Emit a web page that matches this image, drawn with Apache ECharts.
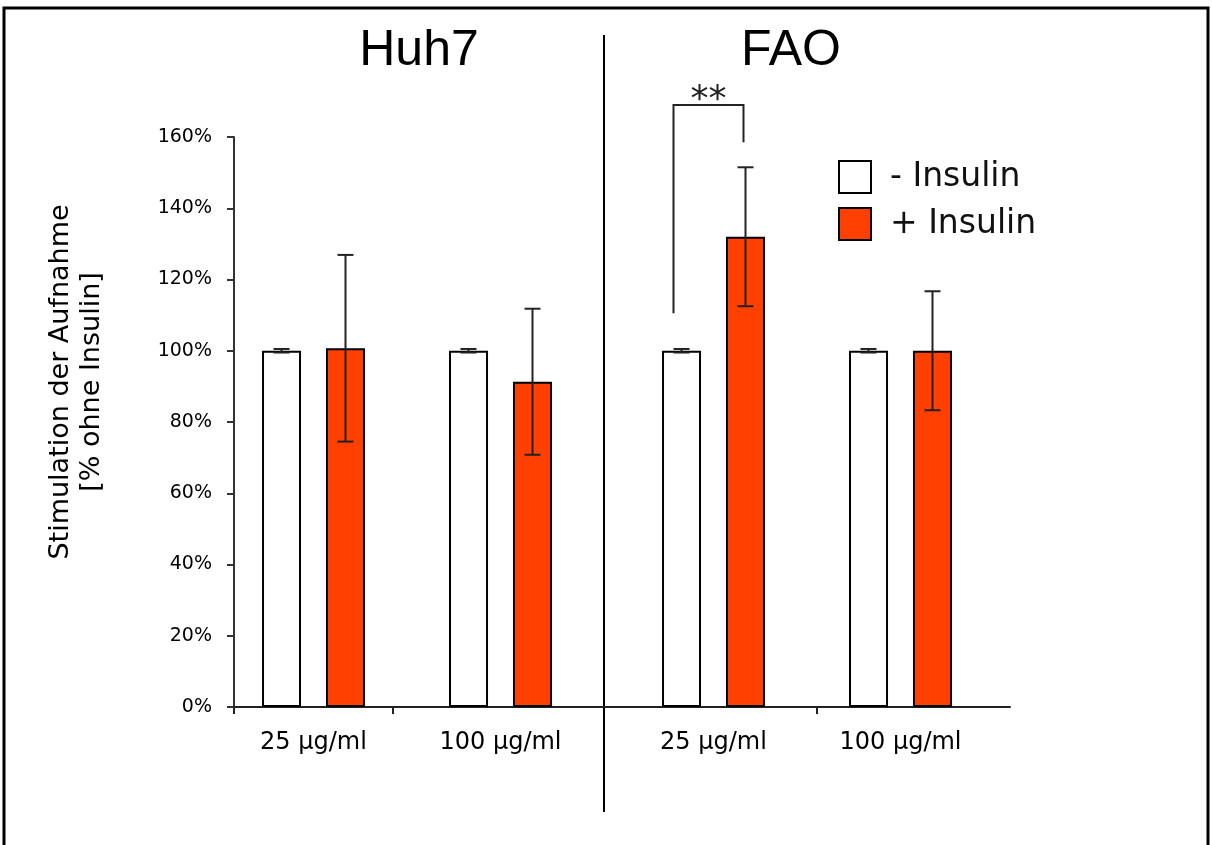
<!DOCTYPE html>
<html>
<head>
<meta charset="utf-8">
<script src="https://cdn.jsdelivr.net/npm/echarts@6/dist/echarts.min.js"></script>
<style>
  html, body { margin: 0; padding: 0; background: #fff; }
  #chart { width: 1212px; height: 845px; }
</style>
</head>
<body>
<div id="chart"></div>
<script>
// ---- data ----
const categories = ['25 µg/ml', '100 µg/ml'];
const panelTitles = ['Huh7', 'FAO'];
const seriesNames = ['- Insulin', '+ Insulin'];
const huh7Minus = [100, 100];
const huh7MinusErr = [0.5, 0.5];
const huh7Plus = [100.7, 91.3];
const huh7PlusErr = [26.2, 20.5];
const faoMinus = [100, 100];
const faoMinusErr = [0.5, 0.5];
const faoPlus = [132.0, 100.0];
const faoPlusErr = [19.5, 16.7];
const yTicks = [0, 20, 40, 60, 80, 100, 120, 140, 160];
const yAxisTitle = ['Stimulation der Aufnahme', '[% ohne Insulin]'];
const sigLabel = '**';
const sigBracket = [110.5, 169, 158.5]; // left-leg bottom, top, right-leg bottom (%)

// ---- style ----
const ORANGE = '#FF4000';
const TOP = 137, H = 570;
const BAR_W = 39, HALF_OFF = 32;

const chart = echarts.init(document.getElementById('chart'));

function errSeries(name, vals, errs, sign, axisIdx) {
  return {
    type: 'custom',
    name: name + ' err',
    xAxisIndex: axisIdx, yAxisIndex: axisIdx,
    z: 5,
    silent: true,
    data: vals.map((v, i) => [i, v, errs[i]]),
    renderItem: function (params, api) {
      const i = api.value(0), v = api.value(1), e = api.value(2);
      const c = api.coord([i, v]);
      const x = c[0] + sign * HALF_OFF;
      const yt = api.coord([i, v + e])[1];
      const yb = api.coord([i, v - e])[1];
      const st = { stroke: '#222', lineWidth: 2 };
      return {
        type: 'group',
        children: [
          { type: 'line', shape: { x1: x, y1: yt, x2: x, y2: yb }, style: st },
          { type: 'line', shape: { x1: x - 8, y1: yt, x2: x + 8, y2: yt }, style: st },
          { type: 'line', shape: { x1: x - 8, y1: yb, x2: x + 8, y2: yb }, style: st }
        ]
      };
    }
  };
}

function barSeries(name, vals, color, axisIdx) {
  return {
    type: 'bar', name: name,
    xAxisIndex: axisIdx, yAxisIndex: axisIdx,
    barWidth: BAR_W, barGap: '64%',
    itemStyle: { color: color, borderColor: '#000', borderWidth: 2 },
    emphasis: { disabled: true },
    data: vals
  };
}

const yBase = { type: 'value', min: 0, max: 160, interval: 20, splitLine: { show: false } };

const option = {
  animation: false,
  backgroundColor: '#fff',
  textStyle: { fontFamily: 'DejaVu Sans' },
  grid: [
    { left: 234, top: TOP, width: 370, height: H },
    { left: 604, top: TOP, width: 406, height: H },
    { left: 220, top: TOP, width: 374, height: H },
    { left: 620, top: TOP, width: 374, height: H }
  ],
  xAxis: [
    { gridIndex: 0, type: 'value', min: 0, max: 1,
      axisLine: { show: true, lineStyle: { color: '#222', width: 2 } },
      axisTick: { show: true, length: 7, customValues: [0, 0.43], lineStyle: { color: '#222', width: 2 } },
      axisLabel: { show: false }, splitLine: { show: false } },
    { gridIndex: 1, type: 'value', min: 0, max: 1,
      axisLine: { show: true, lineStyle: { color: '#222', width: 2 } },
      axisTick: { show: true, length: 7, customValues: [0.525], lineStyle: { color: '#222', width: 2 } },
      axisLabel: { show: false }, splitLine: { show: false } },
    { gridIndex: 2, type: 'category', data: categories,
      axisLine: { show: false }, axisTick: { show: false },
      axisLabel: { margin: 24, fontSize: 24, color: '#000', fontFamily: 'DejaVu Sans' } },
    { gridIndex: 3, type: 'category', data: categories,
      axisLine: { show: false }, axisTick: { show: false },
      axisLabel: { margin: 24, fontSize: 24, color: '#000', fontFamily: 'DejaVu Sans' } }
  ],
  yAxis: [
    Object.assign({}, yBase, { gridIndex: 0,
      axisLine: { show: true, lineStyle: { color: '#333', width: 2 } },
      axisTick: { show: true, length: 7, lineStyle: { color: '#333', width: 2 } },
      axisLabel: { margin: 22, fontSize: 19, color: '#000', fontFamily: 'DejaVu Sans',
        customValues: yTicks, formatter: '{value}%' } }),
    Object.assign({}, yBase, { gridIndex: 1, show: false }),
    Object.assign({}, yBase, { gridIndex: 2, show: false }),
    Object.assign({}, yBase, { gridIndex: 3, show: false })
  ],
  legend: {
    data: seriesNames,
    orient: 'vertical',
    left: 838, top: 160, padding: 0,
    itemWidth: 32, itemHeight: 32, itemGap: 13,
    icon: 'rect',
    selectedMode: false,
    textStyle: { fontSize: 33, color: '#111', fontFamily: 'DejaVu Sans', padding: [0, 0, 0, 14] }
  },
  series: [
    barSeries(seriesNames[0], huh7Minus, '#fff', 2),
    barSeries(seriesNames[1], huh7Plus, ORANGE, 2),
    barSeries(seriesNames[0], faoMinus, '#fff', 3),
    barSeries(seriesNames[1], faoPlus, ORANGE, 3),
    errSeries('huh7m', huh7Minus, huh7MinusErr, -1, 2),
    errSeries('huh7p', huh7Plus, huh7PlusErr, 1, 2),
    errSeries('faom', faoMinus, faoMinusErr, -1, 3),
    errSeries('faop', faoPlus, faoPlusErr, 1, 3)
  ]
};
chart.setOption(option);

// annotations: frame, separator, titles, axis title, significance bracket
const cL = chart.convertToPixel({ xAxisIndex: 2 }, 0);
const cL2 = chart.convertToPixel({ xAxisIndex: 2 }, 1);
const cR = chart.convertToPixel({ xAxisIndex: 3 }, 0);
const cR2 = chart.convertToPixel({ xAxisIndex: 3 }, 1);
const yv = v => chart.convertToPixel({ yAxisIndex: 3 }, v);
const bx1 = cR - 40, bx2 = cR + 30;
const bracketStyle = { stroke: '#222', lineWidth: 2, fill: null };

chart.setOption({
  graphic: [
    { type: 'rect', shape: { x: 4, y: 8, width: 1204, height: 860 },
      style: { stroke: '#000', lineWidth: 3, fill: null }, silent: true },
    { type: 'line', shape: { x1: 604, y1: 35, x2: 604, y2: 812 },
      style: { stroke: '#000', lineWidth: 2 }, silent: true },
    { type: 'text', x: (cL + cL2) / 2 + 12, y: 51,
      style: { text: panelTitles[0], font: '50px "Liberation Sans", Arial, sans-serif',
        fill: '#000', align: 'center', verticalAlign: 'middle' } },
    { type: 'text', x: (cR + cR2) / 2 - 16, y: 51,
      style: { text: panelTitles[1], font: '50px "Liberation Sans", Arial, sans-serif',
        fill: '#000', align: 'center', verticalAlign: 'middle' } },
    { type: 'text', x: 76, y: 382, rotation: Math.PI / 2,
      style: { text: yAxisTitle.join('\n'), font: '27px "DejaVu Sans"', lineHeight: 31,
        fill: '#000', align: 'center', verticalAlign: 'middle' } },
    { type: 'polyline', shape: { points: [[bx1, yv(sigBracket[0])], [bx1, yv(sigBracket[1])],
        [bx2, yv(sigBracket[1])], [bx2, yv(sigBracket[2])]] }, style: bracketStyle, silent: true },
    { type: 'text', x: (bx1 + bx2) / 2, y: yv(sigBracket[1]) + 14,
      style: { text: sigLabel, font: '36px "DejaVu Sans"', fill: '#222',
        align: 'center', verticalAlign: 'bottom' } }
  ]
});
</script>
</body>
</html>
